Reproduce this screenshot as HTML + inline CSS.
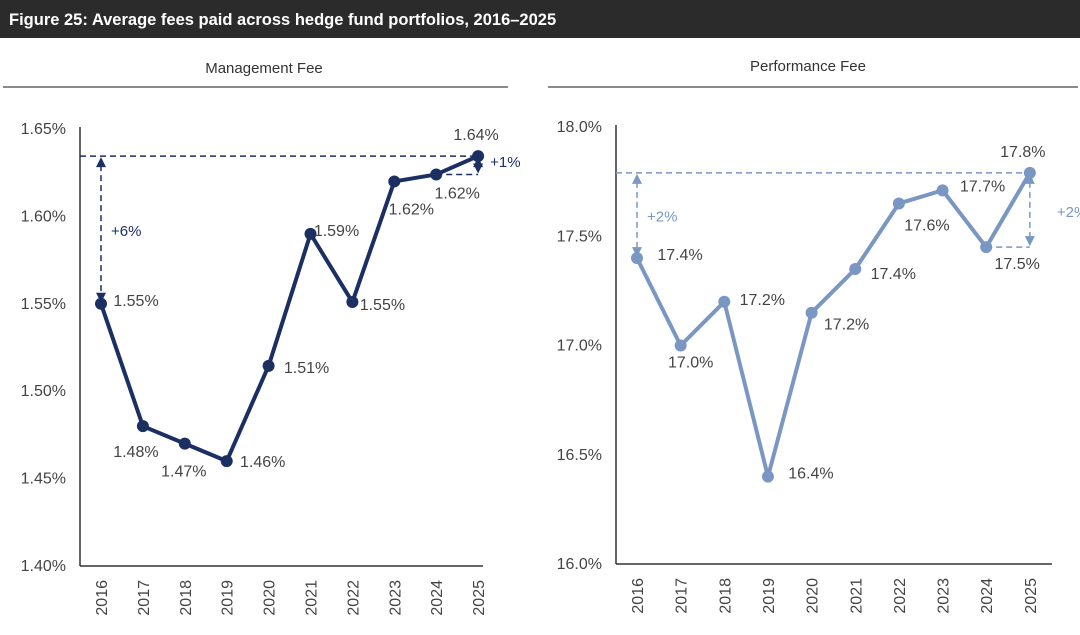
<!DOCTYPE html>
<html><head><meta charset="utf-8"><style>
body{margin:0;width:1080px;height:635px;background:#fff;overflow:hidden;font-family:"Liberation Sans",sans-serif}
svg{display:block}
</style></head><body>
<svg id="c" width="1080" height="635">
<rect x="0" y="0" width="1080" height="38" fill="#2b2b2b"/>
<text x="9" y="25" fill="#fff" font-size="16.5" font-weight="bold">Figure 25: Average fees paid across hedge fund portfolios, 2016–2025</text>
<text x="264" y="73" fill="#333" font-size="15" text-anchor="middle">Management Fee</text>
<line x1="3" y1="87" x2="508" y2="87" stroke="#444" stroke-width="1.2"/>
<text x="808" y="71" fill="#333" font-size="15" text-anchor="middle">Performance Fee</text>
<line x1="548" y1="87" x2="1078" y2="87" stroke="#444" stroke-width="1.2"/>
</svg>
<script>
const years=["2016","2017","2018","2019","2020","2021","2022","2023","2024","2025"];
const mgmtValues=[1.55,1.48,1.47,1.46,1.5145,1.59,1.551,1.62,1.624,1.6345];
const mgmtLabels=["1.55%","1.48%","1.47%","1.46%","1.51%","1.59%","1.55%","1.62%","1.62%","1.64%"];
const mgmtTicks=[1.40,1.45,1.50,1.55,1.60,1.65];
const mgmtTickLabels=["1.40%","1.45%","1.50%","1.55%","1.60%","1.65%"];
const perfValues=[17.40,17.0,17.2,16.40,17.15,17.35,17.65,17.71,17.45,17.79];
const perfLabels=["17.4%","17.0%","17.2%","16.4%","17.2%","17.4%","17.6%","17.7%","17.5%","17.8%"];
const perfTicks=[16.0,16.5,17.0,17.5,18.0];
const perfTickLabels=["16.0%","16.5%","17.0%","17.5%","18.0%"];
const svg=document.getElementById('c');
const NS="http://www.w3.org/2000/svg";
function mk(tag,attrs,txt){const e=document.createElementNS(NS,tag);for(const k in attrs)e.setAttribute(k,attrs[k]);if(txt!==undefined)e.textContent=txt;svg.appendChild(e);return e;}

function chart(o){
  const y=v=>o.y0+(v-o.vmin)/(o.vmax-o.vmin)*(o.y1-o.y0);
  const x=i=>o.x0+i*o.step;
  o.ticks.forEach((t,i)=>{const e=mk('text',{x:o.axX-14,y:y(t)+5,'font-size':16,fill:'#444','text-anchor':'end'},o.tickLabels[i]);
    
    });
  let e=mk('line',{x1:o.axX,y1:o.y1-2,x2:o.axX,y2:o.y0,stroke:'#333','stroke-width':1.5});
  
  
  e=mk('line',{x1:o.axX,y1:o.y0,x2:o.axEnd,y2:o.y0,stroke:'#333','stroke-width':1.5});
  
  
  years.forEach((yr,i)=>{const t=mk('text',{x:0,y:0,'font-size':16,fill:'#444','text-anchor':'end',transform:`translate(${x(i)+6},${o.y0+14}) rotate(-90)`},yr);
    
    });
  const first=o.vals[0],last=o.vals[o.vals.length-1],n=o.vals.length-1;
  const dash={stroke:o.col,'stroke-width':1.5,'stroke-dasharray':'6,4',fill:'none'};
  e=mk('line',Object.assign({x1:o.axX,y1:y(last),x2:x(n),y2:y(last)},dash));
  
  
  e=mk('line',Object.assign({x1:x(n-1),y1:y(o.vals[n-1]),x2:x(n),y2:y(o.vals[n-1])},dash));
  
  
  function arrow(ax,ya,yb,name,lbl,lx,ly){
    const g=mk('line',Object.assign({x1:ax,y1:ya+9,x2:ax,y2:yb-9},dash));
    
    
    const h1=mk('polygon',{points:`${ax-5},${ya+11} ${ax+5},${ya+11} ${ax},${ya+1}`,fill:o.col});
    
    
    const h2=mk('polygon',{points:`${ax-5},${yb-11} ${ax+5},${yb-11} ${ax},${yb-1}`,fill:o.col});
    
    
    const t=mk('text',{x:lx,y:ly,'font-size':15,fill:o.col},lbl);
    
    
  }
  arrow(x(0),y(last),y(first),o.p+'-growth-arrow',o.g1,x(0)+10,(y(last)+y(first))/2+6);
  arrow(x(n),y(last),y(o.vals[n-1]),o.p+'-yoy-arrow',o.g2,x(n)+o.g2dx,y(last)+o.g2dy);
  const pts=o.vals.map((v,i)=>x(i)+','+y(v)).join(' ');
  e=mk('polyline',{points:pts,fill:'none',stroke:o.col,'stroke-width':4,'stroke-linejoin':'round'});
  
  
  o.vals.forEach((v,i)=>{const c=mk('circle',{cx:x(i),cy:y(v),r:6,fill:o.col});
    
    
    const d=o.off[i];
    const t=mk('text',{x:x(i)+d[0],y:y(v)+d[1],'font-size':16,fill:'#444','text-anchor':'middle'},o.labels[i]);
    
    });
}
chart({p:'management',vals:mgmtValues,labels:mgmtLabels,ticks:mgmtTicks,tickLabels:mgmtTickLabels,
  vmin:1.40,vmax:1.65,y0:566,y1:129,x0:101,step:41.9,axX:80,axEnd:483,col:'#1b2f63',g1:'+6%',g2:'+1%',g2dx:12,g2dy:11,
  off:[[35,2],[-7,31],[-1,33],[36,6],[38,7],[26,2],[30,8],[17,33],[21,24],[-2,-16]]});
chart({p:'performance',vals:perfValues,labels:perfLabels,ticks:perfTicks,tickLabels:perfTickLabels,
  vmin:16.0,vmax:18.0,y0:564,y1:127,x0:637,step:43.65,axX:616,axEnd:1052,col:'#7a97c4',g1:'+2%',g2:'+2%',g2dx:27,g2dy:44,
  off:[[43,2],[10,22],[38,3],[43,2],[35,17],[38,10],[28,27],[40,1],[31,22],[-7,-16]]});
</script>
</body></html>
